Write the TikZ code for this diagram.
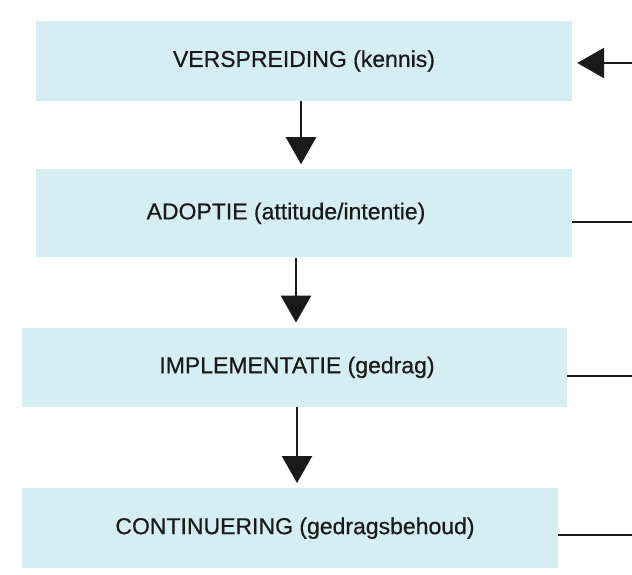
\documentclass[tikz,border=0pt]{standalone}
\usepackage{fontspec}
\setmainfont{Liberation Sans}
\usetikzlibrary{positioning,arrows.meta,calc}
\definecolor{cStage}{HTML}{D5EEF4}
\definecolor{cInk}{HTML}{1A1A1A}

\begin{document}
\begin{tikzpicture}[
    stage/.style={fill=cStage,draw=none,minimum width=536pt,minimum height=80pt,
                  inner sep=0pt,text=cInk,
                  font=\fontsize{23}{27}\selectfont\addfontfeature{FakeBold=0.6}},
    flow/.style={draw=cInk,line width=2.5pt,-{Triangle[width=30pt,length=27pt]},shorten >=5pt},
    feed/.style={draw=cInk,line width=2.6pt}
  ]
  \useasboundingbox (0pt,0pt) rectangle (632pt,-575pt);

  \node[stage] (verspreiding) at (304pt,-61pt) {VERSPREIDING (kennis)};
  \node[stage,minimum height=88pt,below=68pt of verspreiding,xshift=0pt] (adoptie)
       {ADOPTIE (attitude/intentie)\hspace*{36pt}};
  \node[stage,minimum width=545pt,minimum height=79pt,below=70pt of adoptie,xshift=-10pt] (implementatie)
       {IMPLEMENTATIE (gedrag)\hspace*{-6pt}};
  \node[stage,below=81pt of implementatie,xshift=-4pt] (continuering)
       {CONTINUERING (gedragsbehoud)\hspace*{-10pt}};

  % pijlen naar beneden
  \draw[flow] (verspreiding.south -| 301pt,0) -- (adoptie.north -| 301pt,0);
  \draw[flow] (adoptie.south -| 296pt,0) -- (implementatie.north -| 296pt,0);
  \draw[flow] (implementatie.south -| 297pt,0) -- (continuering.north -| 297pt,0);

  % lijnen naar rechts
  \coordinate (in1) at (632pt,-63pt);
  \coordinate (out2) at (632pt,-222pt);
  \coordinate (out3) at (632pt,-376pt);
  \coordinate (out4) at (632pt,-535pt);
  \draw[feed,-{Triangle[width=30pt,length=27pt]},shorten >=5pt] (in1) -- (in1 -| verspreiding.east);
  \draw[feed] (out2) -- (out2 -| adoptie.east);
  \draw[feed] (out3) -- (out3 -| implementatie.east);
  \draw[feed] (out4) -- (out4 -| continuering.east);
\end{tikzpicture}
\end{document}
